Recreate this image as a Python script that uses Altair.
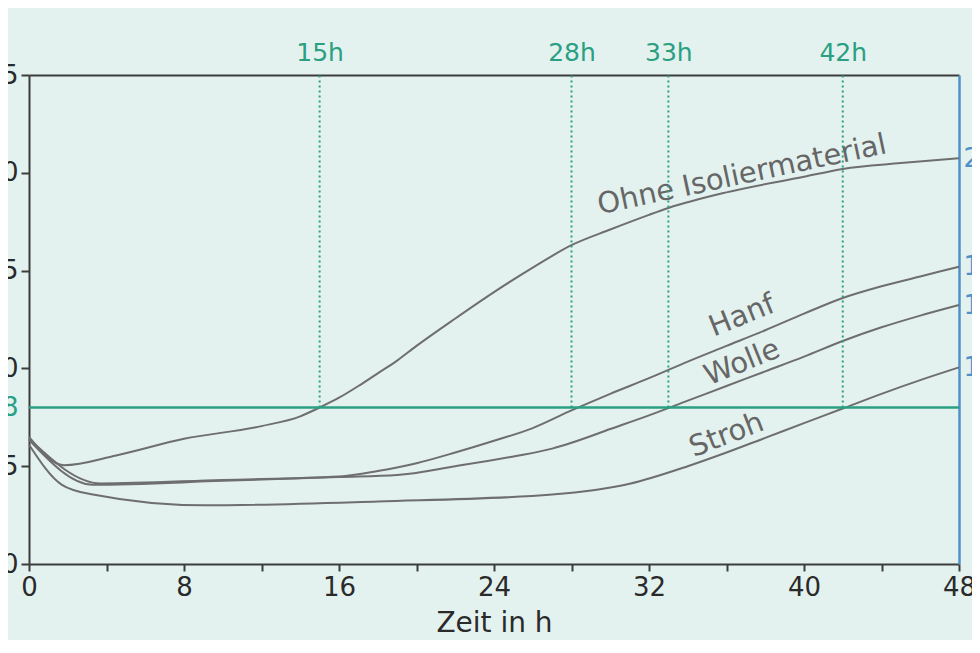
import altair as alt
import pandas as pd

# ---- data ----
hours_ohne = [0, 1.8, 4.5, 8, 12, 14, 15, 16, 17, 18, 19, 20, 22, 24, 26, 28, 30, 32, 33, 36, 40, 42, 45, 48]
temp_ohne = [6.5, 5.05, 5.55, 6.4, 7.05, 7.55, 8.0, 8.5, 9.1, 9.75, 10.4, 11.15, 12.55, 13.9, 15.15, 16.3, 17.1, 17.85, 18.2, 19.0, 19.8, 20.2, 20.5, 20.75]

hours_hanf = [0, 3.7, 10, 16, 18, 20, 22, 24, 26, 28, 30, 32, 34, 36, 38, 40, 42, 44, 46, 48]
temp_hanf = [6.4, 4.12, 4.3, 4.47, 4.75, 5.15, 5.7, 6.3, 6.95, 7.85, 8.7, 9.5, 10.35, 11.15, 11.95, 12.8, 13.6, 14.2, 14.7, 15.2]

hours_wolle = [0, 3.3, 10, 16, 19, 22, 25, 27, 28, 30, 32, 34, 36, 38, 40, 42, 44, 46, 48]
temp_wolle = [6.35, 4.05, 4.25, 4.45, 4.55, 5.0, 5.5, 5.9, 6.2, 6.9, 7.6, 8.35, 9.1, 9.85, 10.6, 11.4, 12.1, 12.7, 13.24]

hours_stroh = [0, 1.7, 3.3, 9, 18, 27, 31, 34, 36, 38, 40, 42, 44, 46, 48]
temp_stroh = [6.1, 4.05, 3.55, 3.0, 3.2, 3.55, 4.1, 5.0, 5.7, 6.45, 7.2, 7.95, 8.7, 9.4, 10.05]

series_names = ["Ohne Isoliermaterial", "Hanf", "Wolle", "Stroh"]

label_x = [36.8, 36.8, 36.8, 36.0]
label_y = [19.9, 12.7, 10.3, 6.6]
label_angle = [348, 338, 338, 339]

threshold = 8
cross_hours = [15, 28, 33, 42]
end_values = [20.75, 15.2, 13.24, 10.05]

# ---- styles ----
BG = "#e3f2ef"
GREEN = "#2a9f82"
BLUE = "#4f90c8"
DARK = "#3c3c3c"
GRAY = "#6e6e6e"
FONT = "DejaVu Sans"

rows = []
for name, hs, ts in [
    ("Ohne Isoliermaterial", hours_ohne, temp_ohne),
    ("Hanf", hours_hanf, temp_hanf),
    ("Wolle", hours_wolle, temp_wolle),
    ("Stroh", hours_stroh, temp_stroh),
]:
    for h, t in zip(hs, ts):
        rows.append({"series": name, "h": h, "t": t})
df_lines = pd.DataFrame(rows)

df_labels = pd.DataFrame({"text": series_names, "h": label_x, "t": label_y, "angle": label_angle})
df_thr = pd.DataFrame({"h0": [0], "h1": [48], "t": [threshold]})
df_rules = pd.DataFrame({"h": cross_hours, "lo": [threshold] * 4, "hi": [25] * 4})

xscale = alt.Scale(domain=[0, 48], nice=False, zero=False)
yscale = alt.Scale(domain=[0, 25], nice=False, zero=False)

left_values = [0, 5, 10, 15, 20, 25, threshold]

x_bottom = alt.X(
    "h:Q", scale=xscale,
    axis=alt.Axis(
        orient="bottom", values=list(range(0, 49, 2)),
        labelExpr="datum.value % 8 == 0 ? datum.label : ''",
        labelOverlap=False, labelFlush=False, grid=False,
        tickSize=7, tickWidth=2, tickColor=DARK,
        domainColor=DARK, domainWidth=2,
        labelFontSize=26, labelColor="#2a2a2a", labelFont=FONT, labelPadding=3,
        title="Zeit in h", titleFontSize=28, titleFont=FONT, titleFontWeight="normal",
        titleColor="#2a2a2a", titlePadding=9,
    ),
)
y_left = alt.Y(
    "t:Q", scale=yscale,
    axis=alt.Axis(
        orient="left", values=left_values, grid=False,
        labelOverlap=False, labelFlush=False,
        tickSize=8, tickWidth=2,
        tickColor={"condition": {"test": "datum.value == 8", "value": "transparent"}, "value": DARK},
        labelColor={"condition": {"test": "datum.value == 8", "value": GREEN}, "value": "#2a2a2a"},
        domainColor=DARK, domainWidth=2,
        labelFontSize=26, labelFont=FONT, labelPadding=3, title=None,
    ),
)

lines = alt.Chart(df_lines).mark_line(color=GRAY, strokeWidth=2, interpolate="monotone").encode(
    x=x_bottom, y=y_left, detail="series:N"
)

thr_line = alt.Chart(df_thr).mark_rule(color=GREEN, strokeWidth=2.5).encode(
    x=alt.X("h0:Q", scale=xscale), x2="h1:Q", y=alt.Y("t:Q", scale=yscale)
)

labels = alt.Chart(df_labels).mark_text(
    font=FONT, fontSize=29, color="#666666", align="center", baseline="middle"
).encode(
    x=alt.X("h:Q", scale=xscale), y=alt.Y("t:Q", scale=yscale),
    text="text:N", angle=alt.Angle("angle:Q", scale=None)
)

inner = alt.layer(lines, thr_line, labels)

rules = alt.Chart(df_rules).mark_rule(color=GREEN, strokeWidth=2, strokeDash=[2, 3]).encode(
    x=alt.X(
        "h:Q", scale=xscale,
        axis=alt.Axis(
            orient="top", values=cross_hours, labelExpr="datum.value + 'h'",
            ticks=False, tickSize=0, grid=False, labelFlush=False, labelOverlap=False,
            labelColor=GREEN, labelFontSize=25, labelFont=FONT, labelPadding=10,
            domainColor=DARK, domainWidth=2, title=None,
        ),
    ),
    y=alt.Y(
        "lo:Q", scale=yscale,
        axis=alt.Axis(
            orient="right", values=end_values,
            labelExpr="replace(format(datum.value, '.1f'), '.', ',')",
            ticks=False, tickSize=0, grid=False, labelFlush=False, labelOverlap=False,
            labelColor=BLUE, labelFontSize=26, labelFont=FONT, labelPadding=4,
            labelAlign="left", domainColor=BLUE, domainWidth=2.5, title=None,
        ),
    ),
    y2="hi:Q",
)

chart = alt.layer(inner, rules).resolve_scale(x="independent", y="independent").properties(
    width=930, height=489,
    padding={"left": 21, "top": 67, "right": 13, "bottom": 76},
    autosize=alt.AutoSizeParams(type="none"),
    background=BG,
).configure_view(stroke=None)

chart.save("out.html", embed_options={"renderer": "svg", "actions": False})
